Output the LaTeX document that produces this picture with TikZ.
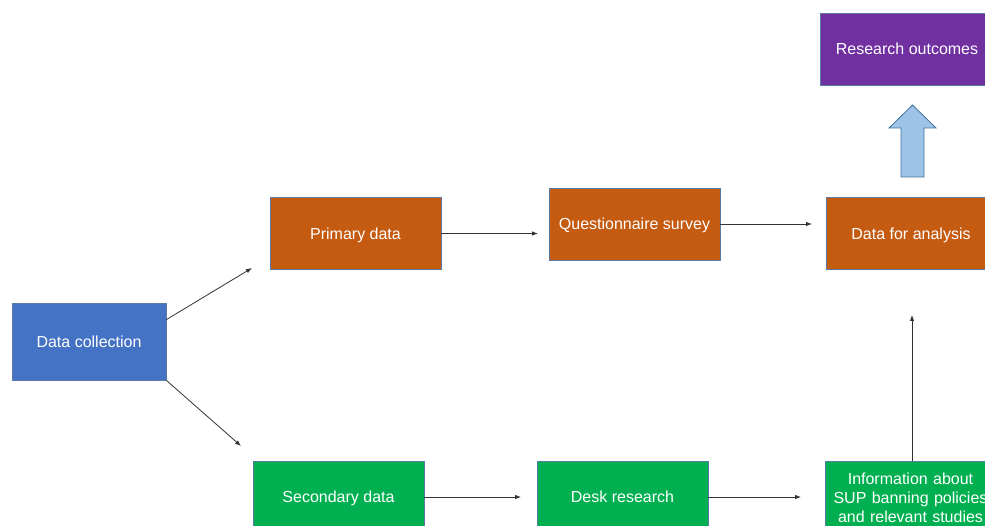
\documentclass[tikz,border=0pt]{standalone}
\usepackage{fontspec}
\setmainfont{Liberation Sans}
\usetikzlibrary{arrows.meta}
\definecolor{cOrange}{HTML}{C55A11}
\definecolor{cBlue}{HTML}{4472C4}
\definecolor{cGreen}{HTML}{00B050}
\definecolor{cPurple}{HTML}{7030A0}
\definecolor{cEdge}{HTML}{5A7BA6}
\definecolor{cArrowFill}{HTML}{9DC3E6}
\definecolor{cArrowEdge}{HTML}{41719C}
\tikzset{
  boxcore/.style={draw=cEdge, line width=0.8pt, text=white, inner sep=0pt, align=center,
    font=\fontsize{16}{19}\selectfont},
  boxbase/.style={boxcore, text height=11.5pt, text depth=0pt},
  conn/.style={draw=black!80, line width=0.8pt, -{Latex[length=6pt,width=4.5pt]}},
  blockarrow/.style={draw=cArrowEdge, fill=cArrowFill, line width=0.8pt, line join=miter}
}
\begin{document}
\begin{tikzpicture}[x=1pt,y=-1pt]
\useasboundingbox (0,0) rectangle (985,526);
\clip (0,0) rectangle (985,526);
% boxes
\node[boxbase, fill=cPurple, minimum width=174pt, minimum height=72pt] (ro) at (907,49) {Research outcomes};
\node[boxbase, fill=cOrange, minimum width=171pt, minimum height=72pt] (pd) at (355.5,233.5) {Primary data};
\node[boxbase, fill=cOrange, minimum width=171pt, minimum height=72pt] (qs) at (634.5,224) {Questionnaire survey};
\node[boxbase, fill=cOrange, minimum width=170pt, minimum height=72pt] (da) at (911,233.5) {Data for analysis};
\node[boxbase, fill=cBlue, minimum width=154pt, minimum height=77pt] (dc) at (89,341.5) {Data collection};
\node[boxbase, fill=cGreen, minimum width=171pt, minimum height=72pt] (sd) at (338.5,497) {Secondary data};
\node[boxbase, fill=cGreen, minimum width=171pt, minimum height=72pt] (dr) at (622.5,497) {Desk research};
\node[boxcore, fill=cGreen, minimum width=170pt, minimum height=74pt, text width=170pt] (info) at (910.5,498) {Information about\\SUP banning policies\\and relevant studies};
% block arrow
\draw[blockarrow] (901,177) -- (901,128) -- (889,128) -- (912.5,105) -- (936,128) -- (924,128) -- (924,177) -- cycle;
% connector free ends
\coordinate (e1) at (252,268);
\coordinate (e2) at (241,446);
\coordinate (e3) at (538,233.5);
\coordinate (e4) at (812,224);
\coordinate (e5) at (521,497);
\coordinate (e6) at (801,497);
\coordinate (e7) at (912,315);
\draw[conn] ([yshift=-17pt]dc.north east) -- (e1);
\draw[conn] (dc.south east) -- (e2);
\draw[conn] (pd.east) -- (e3);
\draw[conn] (qs.east) -- (e4);
\draw[conn] (sd.east) -- (e5);
\draw[conn] (dr.east) -- (e6);
\draw[conn] ([xshift=1.5pt]info.north) -- (e7);
\end{tikzpicture}
\end{document}
